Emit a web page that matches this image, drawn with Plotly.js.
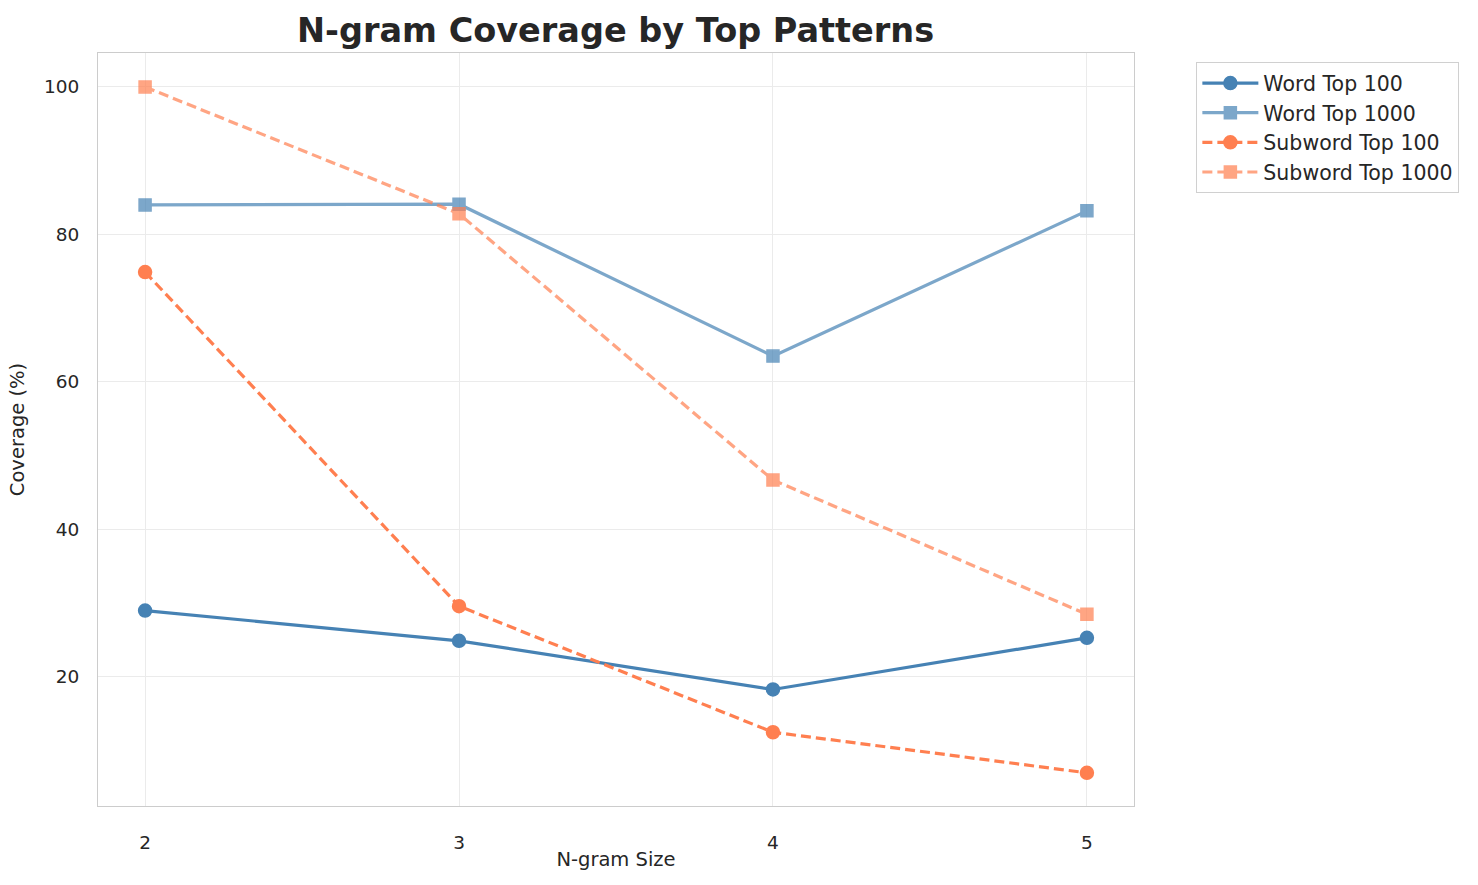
<!DOCTYPE html>
<html>
<head>
<meta charset="utf-8">
<script src="https://cdn.plot.ly/plotly-3.0.1.min.js"></script>
<style>html,body{margin:0;padding:0;background:#fff;}</style>
</head>
<body>
<div id="chart" style="width:1478px;height:885px;"></div>
<script>
const ngramSizes = [2, 3, 4, 5];
const wordTop100 = [29.0, 24.9, 18.3, 25.3];
const wordTop1000 = [84.0, 84.1, 63.5, 83.2];
const subwordTop100 = [74.9, 29.6, 12.5, 7.0];
const subwordTop1000 = [100.0, 82.8, 46.7, 28.5];
const seriesNames = ["Word Top 100", "Word Top 1000", "Subword Top 100", "Subword Top 1000"];

const blue = "#4682B4", coral = "#FF7F50";
function tr(y, name, color, dash, symbol, opacity) {
  return {
    x: ngramSizes, y: y, name: name, type: "scatter", mode: "lines+markers",
    opacity: opacity,
    line: {color: color, width: 3.2, dash: dash},
    marker: {color: color, size: symbol === "circle" ? 13 : 12, symbol: symbol,
             line: {color: color, width: 1.5}}
  };
}
const data = [
  tr(wordTop100, seriesNames[0], blue, "solid", "circle", 1),
  tr(wordTop1000, seriesNames[1], blue, "solid", "square", 0.7),
  tr(subwordTop100, seriesNames[2], coral, "10px,5px", "circle", 1),
  tr(subwordTop1000, seriesNames[3], coral, "10px,5px", "square", 0.7)
];
const font = "DejaVu Sans, sans-serif";
const layout = {
  width: 1478, height: 885,
  margin: {l: 98, r: 344, t: 53, b: 79},
  paper_bgcolor: "#fff", plot_bgcolor: "#fff",
  font: {family: font, color: "#262626", size: 18},
  title: {text: "<b>N-gram Coverage by Top Patterns</b>", font: {size: 33.5, family: font, color: "#262626"},
          x: 0.4165, xanchor: "center", y: 0.966, yanchor: "middle"},
  xaxis: {
    range: [1.85, 5.15], tickvals: ngramSizes, ticktext: ngramSizes.map(String),
    title: {text: "N-gram Size", font: {size: 19.5}, standoff: 0},
    showgrid: true, gridcolor: "#ebebeb", gridwidth: 1.2, zeroline: false,
    showline: true, linecolor: "#cccccc", linewidth: 1.2, mirror: true,
    ticks: "outside", ticklen: 20, tickcolor: "rgba(0,0,0,0)", tickfont: {size: 18.5}
  },
  yaxis: {
    range: [2.5, 104.6], tickvals: [20, 40, 60, 80, 100],
    title: {text: "Coverage (%)", font: {size: 19.5}, standoff: 14},
    showgrid: true, gridcolor: "#ebebeb", gridwidth: 1.2, zeroline: false,
    showline: true, linecolor: "#cccccc", linewidth: 1.2, mirror: true,
    ticks: "outside", ticklen: 14, tickcolor: "rgba(0,0,0,0)", tickfont: {size: 18.5}
  },
  legend: {x: 1.06, y: 0.988, xanchor: "left", yanchor: "top",
           bgcolor: "#fff", bordercolor: "#d0d0d0", borderwidth: 1.2,
           font: {size: 20.5}, tracegroupgap: 2, itemwidth: 56},
  showlegend: true
};
Plotly.newPlot("chart", data, layout, {displayModeBar: false});
</script>
</body>
</html>
